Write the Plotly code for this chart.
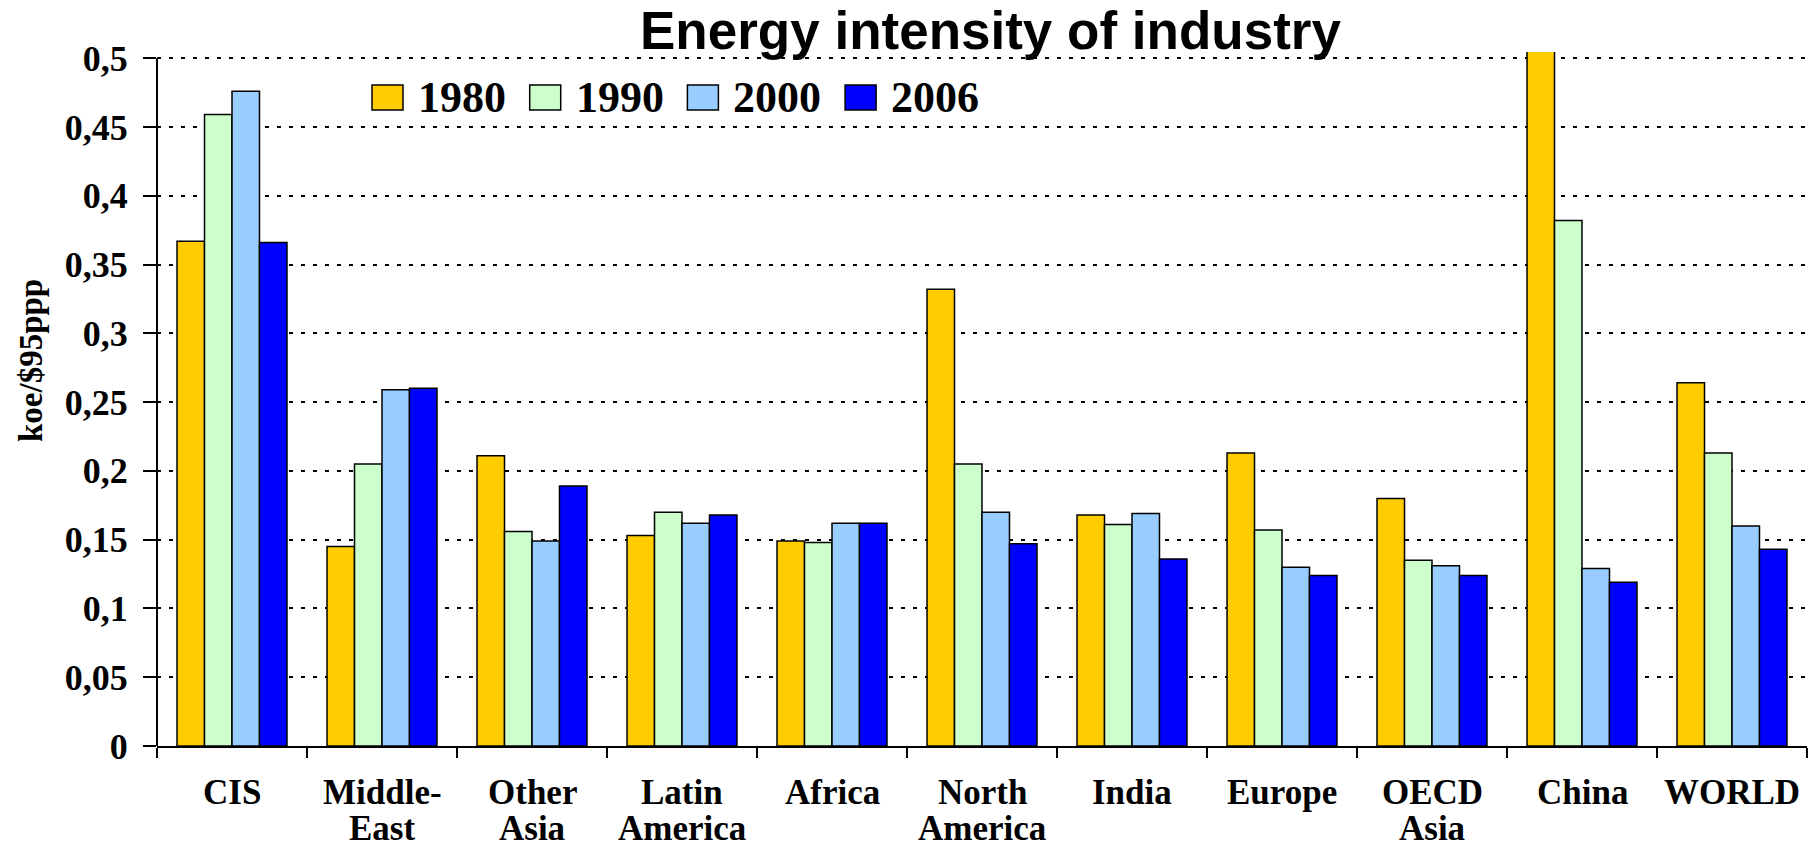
import plotly.graph_objects as go

# Regions (x categories) and their two-line tick labels
regions = ["CIS", "Middle-East", "Other Asia", "Latin America", "Africa",
           "North America", "India", "Europe", "OECD Asia", "China", "WORLD"]
region_labels = ["CIS", "Middle-<br>East", "Other<br>Asia", "Latin<br>America", "Africa",
                 "North<br>America", "India", "Europe", "OECD<br>Asia", "China", "WORLD"]

years = ["1980", "1990", "2000", "2006"]
year_colors = ["#FFCC00", "#CCFFCC", "#99CCFF", "#0000FF"]

# Energy intensity of industry, koe per $95 ppp
v1980 = [0.367, 0.145, 0.211, 0.153, 0.149, 0.332, 0.168, 0.213, 0.180, 0.560, 0.264]
v1990 = [0.459, 0.205, 0.156, 0.170, 0.148, 0.205, 0.161, 0.157, 0.135, 0.382, 0.213]
v2000 = [0.476, 0.259, 0.149, 0.162, 0.162, 0.170, 0.169, 0.130, 0.131, 0.129, 0.160]
v2006 = [0.366, 0.260, 0.189, 0.168, 0.162, 0.147, 0.136, 0.124, 0.124, 0.119, 0.143]
series = [v1980, v1990, v2000, v2006]

y_tickvals = [0, 0.05, 0.1, 0.15, 0.2, 0.25, 0.3, 0.35, 0.4, 0.45, 0.5]
y_ticktext = ["0", "0,05", "0,1", "0,15", "0,2", "0,25", "0,3", "0,35", "0,4", "0,45", "0,5"]

W, H = 1819, 849
ML, MR, MT, MB = 157, 12, 52, 103
PW, PH = W - ML - MR, H - MT - MB

SERIF = "Liberation Serif, Times New Roman, serif"
SANS = "Liberation Sans, Arial, sans-serif"


def px_x(px):
    return (px - ML) / PW


def px_y(py):
    return (H - MB - py) / PH


fig = go.Figure()
for name, vals, col in zip(years, series, year_colors):
    fig.add_trace(go.Bar(
        x=regions, y=vals, name=name,
        marker=dict(color=col, line=dict(color="black", width=1.5)),
        showlegend=False,
    ))

annotations = []
shapes = []

# Title
annotations.append(dict(
    text="Energy intensity of industry", xref="paper", yref="paper",
    x=px_x(990), y=px_y(30), xanchor="center", yanchor="middle", showarrow=False,
    font=dict(family=SANS, size=53, color="black", weight="bold"),
))

# Y axis title
annotations.append(dict(
    text="koe/$95ppp", xref="paper", yref="paper", textangle=-90,
    x=px_x(31), y=px_y(360), xanchor="center", yanchor="middle", showarrow=False,
    font=dict(family=SERIF, size=33, color="black", weight="bold"),
))

# Two-line category labels under the axis
for reg, lab in zip(regions, region_labels):
    for k, line in enumerate(lab.split("<br>")):
        annotations.append(dict(
            text=line, xref="x", yref="paper", x=reg, y=px_y(792 + 36 * k),
            xanchor="center", yanchor="middle", showarrow=False, borderpad=0,
            font=dict(family=SERIF, size=35, color="black", weight="bold"),
        ))

# Legend: colour boxes with year labels in a row
for i, (name, col) in enumerate(zip(years, year_colors)):
    bx = 372 + 157.7 * i
    shapes.append(dict(
        type="rect", xref="paper", yref="paper",
        x0=px_x(bx), x1=px_x(bx + 31), y0=px_y(110), y1=px_y(85),
        fillcolor=col, line=dict(color="black", width=1.5), layer="above",
    ))
    annotations.append(dict(
        text=name, xref="paper", yref="paper", x=px_x(bx + 44), y=px_y(97),
        xanchor="left", yanchor="middle", showarrow=False,
        font=dict(family=SERIF, size=44, color="black", weight="bold"),
    ))

# Vertical axis line stopping at the top tick
shapes.append(dict(
    type="line", xref="paper", yref="y", x0=0, x1=0, y0=0, y1=0.5,
    line=dict(color="black", width=2), layer="above",
))

fig.update_layout(
    width=W, height=H,
    margin=dict(l=ML, r=MR, t=MT, b=MB, pad=0),
    paper_bgcolor="white", plot_bgcolor="white",
    barmode="group", bargap=0.267, bargroupgap=0,
    showlegend=False,
    annotations=annotations, shapes=shapes,
    xaxis=dict(
        type="category", showline=True, linecolor="black", linewidth=2,
        ticks="outside", tickson="boundaries", ticklen=10, tickwidth=2, tickcolor="black",
        showticklabels=False, showgrid=False, zeroline=False,
    ),
    yaxis=dict(
        range=[0, 0.5045], tickmode="array", tickvals=y_tickvals, ticktext=y_ticktext,
        ticks="outside", ticklen=13, tickwidth=2, tickcolor="black",
        ticklabelstandoff=8,
        tickfont=dict(family=SERIF, size=36, color="black", weight="bold"),
        showline=False, zeroline=False,
        showgrid=True, gridcolor="black", gridwidth=2, griddash="4px,8px",
    ),
)

fig.write_html("out.html")
